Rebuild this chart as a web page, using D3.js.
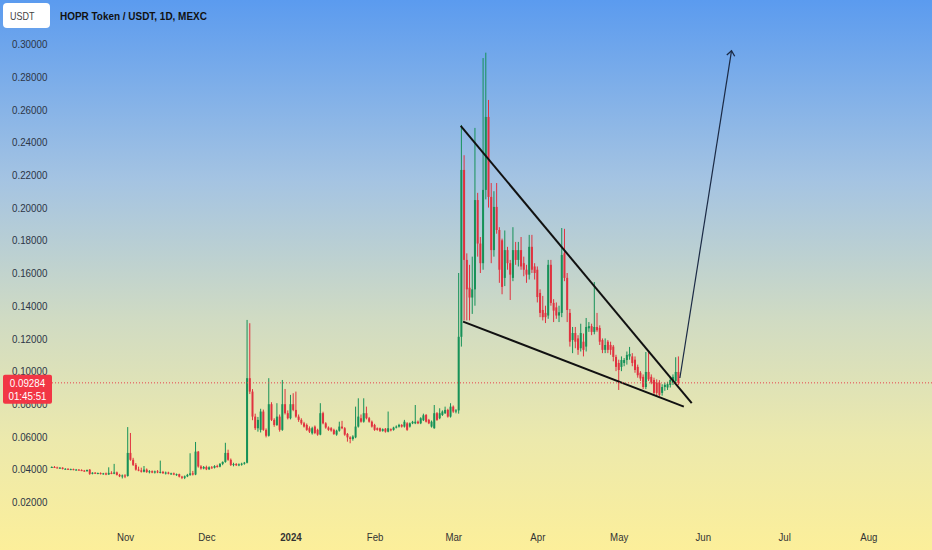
<!DOCTYPE html>
<html>
<head>
<meta charset="utf-8">
<script src="https://cdn.jsdelivr.net/npm/d3@7"></script>
<style>
  html, body { margin: 0; padding: 0; background: #fff; }
  svg { display: block; }
  .tick-label { font-family: "Liberation Sans", Arial, sans-serif; font-size: 11.5px; }
</style>
</head>
<body>
<div id="chart"></div>
<script>
// HOPR Token / USDT daily candles: [open, high, low, close]
const octStart = "2023-10-05";
const octCandles = [
  [0.0412,0.0418,0.0408,0.0414],[0.0414,0.0420,0.0409,0.0411],[0.0411,0.0416,0.0406,0.0408],
  [0.0408,0.0413,0.0403,0.0410],[0.0410,0.0412,0.0399,0.0402],[0.0402,0.0407,0.0398,0.0403],
  [0.0403,0.0406,0.0396,0.0399],[0.0399,0.0404,0.0395,0.0401],[0.0401,0.0404,0.0394,0.0397],
  [0.0397,0.0402,0.0393,0.0398],[0.0398,0.0401,0.0392,0.0395],[0.0395,0.0400,0.0389,0.0392],
  [0.0392,0.0396,0.0385,0.0388],[0.0388,0.0398,0.0386,0.0396],[0.0398,0.0401,0.0366,0.0372],
  [0.0372,0.0382,0.0369,0.0379],[0.0379,0.0383,0.0371,0.0374],[0.0374,0.0380,0.0370,0.0377],
  [0.0377,0.0381,0.0368,0.0371],[0.0371,0.0378,0.0367,0.0375],[0.0375,0.0380,0.0364,0.0368],
  [0.0368,0.0412,0.0366,0.0378],[0.0378,0.0388,0.0370,0.0373],[0.0373,0.0433,0.0370,0.0381],
  [0.0381,0.0386,0.0362,0.0366],[0.0366,0.0372,0.0352,0.0357],[0.0357,0.0368,0.0344,0.0362]
];
const novStart = "2023-11-01";
const novCandles = [
  [0.0362,0.0370,0.0346,0.0359],[0.0359,0.0658,0.0355,0.0500],[0.0500,0.0622,0.0452,0.0458],
  [0.0458,0.0470,0.0420,0.0427],[0.0427,0.0438,0.0392,0.0398],[0.0398,0.0416,0.0388,0.0393],
  [0.0393,0.0410,0.0380,0.0385],[0.0385,0.0420,0.0381,0.0398],[0.0398,0.0405,0.0378,0.0383],
  [0.0383,0.0395,0.0375,0.0388],[0.0388,0.0393,0.0376,0.0380],[0.0380,0.0392,0.0374,0.0387],
  [0.0387,0.0395,0.0376,0.0381],[0.0381,0.0453,0.0375,0.0384],[0.0384,0.0390,0.0372,0.0376],
  [0.0376,0.0386,0.0368,0.0380],[0.0380,0.0385,0.0369,0.0373],[0.0373,0.0379,0.0366,0.0375],
  [0.0375,0.0380,0.0364,0.0368],[0.0368,0.0374,0.0360,0.0370],[0.0370,0.0373,0.0350,0.0355],
  [0.0355,0.0360,0.0340,0.0348],[0.0348,0.0362,0.0340,0.0357],[0.0357,0.0372,0.0352,0.0366],
  [0.0366,0.0498,0.0360,0.0375],[0.0375,0.0390,0.0362,0.0368],[0.0368,0.0567,0.0364,0.0508],
  [0.0508,0.0512,0.0410,0.0417],[0.0417,0.0425,0.0398,0.0405],[0.0405,0.0420,0.0400,0.0414]
];
const decStart = "2023-12-01";
const decCandles = [
  [0.0414,0.0422,0.0395,0.0400],[0.0400,0.0418,0.0396,0.0412],[0.0412,0.0420,0.0403,0.0409],
  [0.0409,0.0425,0.0405,0.0420],[0.0420,0.0428,0.0410,0.0416],[0.0416,0.0438,0.0412,0.0433],
  [0.0433,0.0448,0.0425,0.0445],[0.0445,0.0562,0.0440,0.0500],[0.0500,0.0520,0.0452,0.0458],
  [0.0458,0.0466,0.0420,0.0427],[0.0427,0.0440,0.0418,0.0432],[0.0432,0.0438,0.0420,0.0425],
  [0.0425,0.0436,0.0419,0.0430],[0.0430,0.0440,0.0422,0.0434],[0.0434,0.0445,0.0428,0.0440],
  [0.0440,0.1313,0.0436,0.0957],[0.0957,0.1293,0.0860,0.0875],[0.0875,0.0890,0.0700,0.0722],
  [0.0722,0.0740,0.0640,0.0651],[0.0651,0.0720,0.0630,0.0702],[0.0641,0.0770,0.0625,0.0753],
  [0.0753,0.0765,0.0635,0.0641],[0.0641,0.0650,0.0595,0.0605],[0.0605,0.0957,0.0600,0.0798],
  [0.0798,0.0810,0.0695,0.0702],[0.0702,0.0712,0.0660,0.0671],[0.0671,0.0804,0.0665,0.0722],
  [0.0722,0.0735,0.0630,0.0641],[0.0641,0.0946,0.0635,0.0798],[0.0798,0.0891,0.0735,0.0743],
  [0.0743,0.0760,0.0705,0.0712]
];
const janStart = "2024-01-01";
const janCandles = [
  [0.0712,0.0855,0.0705,0.0798],[0.0798,0.0865,0.0755,0.0763],[0.0763,0.0875,0.0715,0.0722],
  [0.0722,0.0735,0.0690,0.0702],[0.0702,0.0712,0.0672,0.0681],[0.0681,0.0690,0.0655,0.0661],
  [0.0671,0.0680,0.0635,0.0641],[0.0651,0.0662,0.0622,0.0630],[0.0620,0.0660,0.0612,0.0651],
  [0.0661,0.0668,0.0615,0.0622],[0.0641,0.0648,0.0605,0.0612],[0.0612,0.0804,0.0608,0.0743],
  [0.0743,0.0752,0.0675,0.0681],[0.0681,0.0688,0.0648,0.0655],[0.0655,0.0662,0.0635,0.0641],
  [0.0651,0.0658,0.0630,0.0637],[0.0641,0.0648,0.0610,0.0616],[0.0612,0.0642,0.0605,0.0636],
  [0.0636,0.0691,0.0630,0.0661],[0.0661,0.0696,0.0645,0.0651],[0.0651,0.0658,0.0605,0.0612],
  [0.0616,0.0622,0.0569,0.0595],[0.0595,0.0602,0.0559,0.0585],[0.0585,0.0608,0.0575,0.0600],
  [0.0595,0.0783,0.0590,0.0661],[0.0661,0.0834,0.0655,0.0722],[0.0712,0.0735,0.0685,0.0691],
  [0.0691,0.0834,0.0685,0.0743],[0.0743,0.0783,0.0705,0.0712],[0.0712,0.0720,0.0685,0.0691],
  [0.0691,0.0698,0.0655,0.0661]
];
const febStart = "2024-02-01";
const febCandles = [
  [0.0671,0.0678,0.0635,0.0641],[0.0651,0.0656,0.0636,0.0641],[0.0651,0.0655,0.0628,0.0635],
  [0.0635,0.0650,0.0630,0.0645],[0.0648,0.0652,0.0624,0.0630],[0.0630,0.0753,0.0626,0.0651],
  [0.0645,0.0650,0.0632,0.0638],[0.0641,0.0660,0.0636,0.0655],[0.0655,0.0668,0.0650,0.0661],
  [0.0661,0.0678,0.0655,0.0671],[0.0671,0.0676,0.0655,0.0661],[0.0661,0.0702,0.0655,0.0691],
  [0.0681,0.0688,0.0635,0.0641],[0.0661,0.0686,0.0655,0.0681],[0.0681,0.0696,0.0676,0.0690],
  [0.0681,0.0793,0.0676,0.0691],[0.0691,0.0698,0.0676,0.0681],[0.0681,0.0718,0.0676,0.0712],
  [0.0700,0.0740,0.0695,0.0730],[0.0732,0.0738,0.0686,0.0691],[0.0702,0.0708,0.0676,0.0681],
  [0.0661,0.0698,0.0655,0.0691],[0.0651,0.0793,0.0648,0.0743],[0.0743,0.0750,0.0696,0.0702],
  [0.0712,0.0773,0.0706,0.0743],[0.0732,0.0760,0.0726,0.0753],[0.0743,0.0783,0.0738,0.0763],
  [0.0763,0.0770,0.0716,0.0722],[0.0722,0.0804,0.0716,0.0783]
];
const marStart = "2024-03-01";
const marCandles = [
  [0.0783,0.0790,0.0745,0.0753],[0.0753,0.0768,0.0742,0.0760],[0.0760,0.1600,0.0740,0.1210],
  [0.1210,0.2505,0.1150,0.2230],[0.2230,0.2320,0.1310,0.1680],[0.1680,0.1720,0.1310,0.1500],
  [0.1510,0.1650,0.1310,0.1450],[0.1450,0.1700,0.1350,0.1500],[0.1500,0.2487,0.1400,0.2046],
  [0.2046,0.2090,0.1700,0.1780],[0.1780,0.1820,0.1600,0.1660],[0.1660,0.2914,0.1620,0.2108],
  [0.2108,0.2947,0.2050,0.2554],[0.2554,0.2658,0.2000,0.2065],[0.2065,0.2150,0.1660,0.1740],
  [0.1740,0.2100,0.1700,0.2004],[0.2004,0.2150,0.1840,0.1863],[0.1863,0.1880,0.1540,0.1620],
  [0.1800,0.1810,0.1470,0.1515],[0.1570,0.1860,0.1520,0.1740],[0.1740,0.1760,0.1620,0.1660],
  [0.1660,0.1680,0.1435,0.1590],[0.1570,0.1880,0.1550,0.1740],[0.1740,0.1790,0.1650,0.1680],
  [0.1680,0.1790,0.1640,0.1740],[0.1740,0.1820,0.1620,0.1640],[0.1660,0.1700,0.1580,0.1620],
  [0.1620,0.1650,0.1540,0.1590],[0.1590,0.1833,0.1560,0.1760],[0.1760,0.1833,0.1600,0.1620],
  [0.1640,0.1660,0.1560,0.1600]
];
const aprStart = "2024-04-01";
const aprCandles = [
  [0.1620,0.1640,0.1420,0.1453],[0.1478,0.1500,0.1330,0.1356],[0.1374,0.1460,0.1310,0.1330],
  [0.1356,0.1400,0.1294,0.1330],[0.1340,0.1680,0.1320,0.1650],[0.1650,0.1680,0.1400,0.1417],
  [0.1417,0.1440,0.1300,0.1370],[0.1390,0.1420,0.1320,0.1340],[0.1340,0.1400,0.1300,0.1360],
  [0.1356,0.1875,0.1330,0.1710],[0.1720,0.1870,0.1550,0.1570],[0.1570,0.1600,0.1300,0.1374],
  [0.1356,0.1380,0.1150,0.1180],[0.1190,0.1270,0.1110,0.1233],[0.1233,0.1270,0.1140,0.1180],
  [0.1200,0.1220,0.1100,0.1130],[0.1140,0.1290,0.1120,0.1233],[0.1180,0.1230,0.1090,0.1130],
  [0.1150,0.1325,0.1120,0.1270],[0.1262,0.1300,0.1240,0.1275],[0.1275,0.1290,0.1220,0.1240],
  [0.1240,0.1545,0.1225,0.1270],[0.1270,0.1356,0.1240,0.1250],[0.1264,0.1280,0.1160,0.1180],
  [0.1190,0.1200,0.1110,0.1130],[0.1130,0.1200,0.1110,0.1160],[0.1180,0.1190,0.1110,0.1130],
  [0.1160,0.1180,0.1100,0.1130],[0.1150,0.1160,0.1060,0.1087],[0.1087,0.1100,0.1000,0.1026]
];
const mayStart = "2024-05-01";
const mayCandles = [
  [0.1050,0.1070,0.0885,0.1007],[0.1026,0.1090,0.1000,0.1068],[0.1050,0.1080,0.1030,0.1068],
  [0.1068,0.1120,0.1040,0.1099],[0.1090,0.1148,0.1070,0.1105],[0.1090,0.1110,0.1030,0.1050],
  [0.1070,0.1090,0.0990,0.1007],[0.1026,0.1040,0.0960,0.0975],[0.0990,0.1000,0.0940,0.0955],
  [0.0965,0.0980,0.0890,0.0903],[0.0903,0.1117,0.0890,0.0995],[0.0995,0.1117,0.0940,0.0950],
  [0.0965,0.0980,0.0920,0.0930],[0.0946,0.0960,0.0855,0.0867],[0.0930,0.0950,0.0850,0.0867],
  [0.0928,0.0945,0.0845,0.0855],[0.0867,0.0920,0.0850,0.0903],[0.0903,0.0930,0.0880,0.0916],
  [0.0900,0.0935,0.0885,0.0920],[0.0916,0.0960,0.0900,0.0946],[0.0928,0.0980,0.0915,0.0965],
  [0.0940,0.1085,0.0925,0.0995],[0.0995,0.1090,0.0915,0.09284]
];

// axis ticks
const yTicks = [0.02, 0.04, 0.06, 0.08, 0.10, 0.12, 0.14, 0.16, 0.18, 0.20, 0.22, 0.24, 0.26, 0.28, 0.30];
const xTicks = ["2023-11-01", "2023-12-01", "2024-01-01", "2024-02-01", "2024-03-01",
                "2024-04-01", "2024-05-01", "2024-06-01", "2024-07-01", "2024-08-01"];

// drawings: [date, price]
const trendUpper = [["2024-03-03T18:00", 0.2500], ["2024-05-27T22:00", 0.0804]];
const trendLower = [["2024-03-04T15:00", 0.1303], ["2024-05-25T00:00", 0.0783]];
const targetArrow = [["2024-05-23T13:00", 0.0958], ["2024-06-11T14:00", 0.2959]];

const title = "HOPR Token / USDT, 1D, MEXC";
const currency = "USDT";
const countdown = "01:45:51";

const width = 932;
const height = 550;
const upColor = "#169158";
const downColor = "#e0323f";

const parseDay = d3.utcParse("%Y-%m-%d");
const parseTime = d3.utcParse("%Y-%m-%dT%H:%M");

/**
 * Squeeze text horizontally, the chart's font is narrower than what we have
 */
function condense(sel, factor) {
  sel.each(function() {
    const w = this.getComputedTextLength();
    d3.select(this)
      .attr("textLength", w * factor)
      .attr("lengthAdjust", "spacingAndGlyphs");
  });
}

// stitch the months into one daily series
const months = [
  [octStart, octCandles], [novStart, novCandles], [decStart, decCandles], [janStart, janCandles],
  [febStart, febCandles], [marStart, marCandles], [aprStart, aprCandles], [mayStart, mayCandles]
];
const candles = months.flatMap(([start, rows]) =>
  rows.map((r, i) => ({
    date: d3.utcDay.offset(parseDay(start), i),
    o: r[0], h: r[1], l: r[2], c: r[3]
  }))
);

const x = d3.scaleUtc()
  .domain([parseDay("2023-11-01"), parseDay("2024-08-01")])
  .range([125, 868.3]);
const y = d3.scaleLinear()
  .domain([0.02, 0.30])
  .range([502, 44]);

const svg = d3.select("#chart")
  .append("svg")
  .attr("width", width)
  .attr("height", height)
  .attr("viewBox", `0 0 ${width} ${height}`);

// background gradient
const defs = svg.append("defs");
const grad = defs.append("linearGradient")
  .attr("id", "bg")
  .attr("x1", 0).attr("y1", 0).attr("x2", 0).attr("y2", 1);
grad.append("stop").attr("offset", "0%").attr("stop-color", "#5b9bef");
grad.append("stop").attr("offset", "33%").attr("stop-color", "#a5c4e2");
grad.append("stop").attr("offset", "58%").attr("stop-color", "#d0dbc3");
grad.append("stop").attr("offset", "80%").attr("stop-color", "#ece9ac");
grad.append("stop").attr("offset", "100%").attr("stop-color", "#fcef9a");

defs.append("marker")
  .attr("id", "head")
  .attr("viewBox", "0 0 10 10")
  .attr("refX", 7)
  .attr("refY", 5)
  .attr("markerWidth", 10)
  .attr("markerHeight", 10)
  .attr("markerUnits", "userSpaceOnUse")
  .attr("orient", "auto")
  .append("path")
  .attr("d", "M2,1 L7,5 L2,9")
  .attr("fill", "none")
  .attr("stroke", "#1b2a45")
  .attr("stroke-width", 1.3);

svg.append("rect")
  .attr("width", width)
  .attr("height", height)
  .attr("fill", "url(#bg)");

// y axis labels, inside the plot on the left
const yAxis = svg.append("g")
  .attr("transform", "translate(8,0)")
  .call(d3.axisRight(y).tickValues(yTicks).tickSize(0).tickPadding(4).tickFormat(d3.format(".5f")));
yAxis.select(".domain").remove();
yAxis.selectAll("text")
  .attr("class", "tick-label")
  .attr("fill", "#2c3546")
  .call(condense, 0.85);

// x axis labels
const xAxis = svg.append("g")
  .attr("transform", "translate(0,530)")
  .call(d3.axisBottom(x)
    .tickValues(xTicks.map(parseDay))
    .tickSize(0)
    .tickPadding(3)
    .tickFormat(d => d.getUTCMonth() === 0 ? d3.utcFormat("%Y")(d) : d3.utcFormat("%b")(d)));
xAxis.select(".domain").remove();
xAxis.selectAll("text")
  .attr("class", "tick-label")
  .attr("fill", "#333")
  .attr("font-weight", d => d.getUTCMonth() === 0 ? "bold" : null)
  .call(condense, 0.84);

// candles
const g = svg.append("g").attr("class", "candles");
const candle = g.selectAll("g")
  .data(candles)
  .enter()
  .append("g")
  .attr("fill", d => d.c >= d.o ? upColor : downColor)
  .attr("stroke", d => d.c >= d.o ? upColor : downColor);

candle.append("line")
  .attr("x1", d => x(d.date))
  .attr("x2", d => x(d.date))
  .attr("y1", d => y(d.h))
  .attr("y2", d => y(d.l))
  .attr("stroke-width", 1);

candle.append("rect")
  .attr("x", d => x(d.date) - 1)
  .attr("width", 2)
  .attr("y", d => y(Math.max(d.o, d.c)))
  .attr("height", d => Math.max(1, Math.abs(y(d.o) - y(d.c))))
  .attr("stroke", "none");

// wedge lines and projection arrow
const line = d3.line()
  .x(d => x(parseTime(d[0])))
  .y(d => y(d[1]));

svg.append("path")
  .datum(trendUpper)
  .attr("d", line)
  .attr("fill", "none")
  .attr("stroke", "#111")
  .attr("stroke-width", 2);

svg.append("path")
  .datum(trendLower)
  .attr("d", line)
  .attr("fill", "none")
  .attr("stroke", "#111")
  .attr("stroke-width", 2);

svg.append("path")
  .datum(targetArrow)
  .attr("d", line)
  .attr("fill", "none")
  .attr("stroke", "#1b2a45")
  .attr("stroke-width", 1.2)
  .attr("marker-end", "url(#head)");

// last price line and label
const last = candles[candles.length - 1];
const py = y(last.c);

svg.append("line")
  .attr("x1", 52)
  .attr("x2", width)
  .attr("y1", py)
  .attr("y2", py)
  .attr("stroke", "#e8414b")
  .attr("stroke-width", 1)
  .attr("stroke-dasharray", "1,2");

svg.append("rect")
  .attr("x", 3)
  .attr("y", py - 8)
  .attr("width", 49)
  .attr("height", 29)
  .attr("rx", 2)
  .attr("fill", "#f23645");

svg.append("text")
  .attr("class", "tick-label")
  .attr("x", 27.5)
  .attr("y", py)
  .attr("dy", "0.35em")
  .attr("text-anchor", "middle")
  .attr("fill", "#fff")
  .text(d3.format(".5f")(last.c))
  .call(condense, 0.85);

svg.append("text")
  .attr("class", "tick-label")
  .attr("x", 27.5)
  .attr("y", py + 13.5)
  .attr("dy", "0.35em")
  .attr("text-anchor", "middle")
  .attr("fill", "#fff")
  .text(countdown)
  .call(condense, 0.85);

// header
svg.append("rect")
  .attr("x", 3)
  .attr("y", 3)
  .attr("width", 47)
  .attr("height", 25)
  .attr("rx", 4)
  .attr("fill", "#fff");

svg.append("text")
  .attr("class", "tick-label")
  .attr("x", 10)
  .attr("y", 16)
  .attr("dy", "0.35em")
  .attr("font-size", "11px")
  .attr("fill", "#444")
  .text(currency)
  .call(condense, 0.78);

svg.append("text")
  .attr("class", "tick-label")
  .attr("x", 60)
  .attr("y", 16)
  .attr("dy", "0.35em")
  .attr("font-weight", "bold")
  .attr("font-size", "12.5px")
  .attr("fill", "#111")
  .text(title)
  .call(condense, 0.865);
</script>
</body>
</html>
